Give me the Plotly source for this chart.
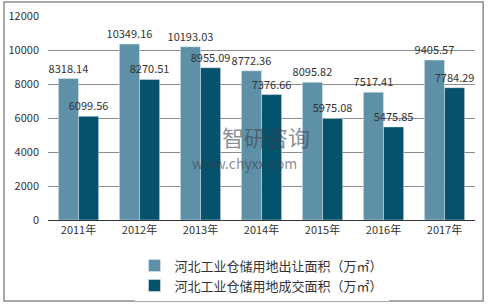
import plotly.graph_objects as go

years = ["2011年", "2012年", "2013年", "2014年", "2015年", "2016年", "2017年"]
transfer = [8318.14, 10349.16, 10193.03, 8772.36, 8095.82, 7517.41, 9405.57]
deal = [6099.56, 8270.51, 8955.09, 7376.66, 5975.08, 5475.85, 7784.29]
name1 = "河北工业仓储用地出让面积（万㎡）"
name2 = "河北工业仓储用地成交面积（万㎡）"
yticks = [0, 2000, 4000, 6000, 8000, 10000, 12000]

FONT = "Microsoft YaHei, Noto Sans CJK SC, sans-serif"

fig = go.Figure()
fig.add_trace(go.Bar(x=years, y=transfer, name=name1, marker_color="#5e90a7",
                     text=[f"{v:.2f}" for v in transfer], textposition="outside",
                     constraintext="none",
                     textfont=dict(size=11, color="#333333"), cliponaxis=False))
fig.add_trace(go.Bar(x=years, y=deal, name=name2, marker_color="#04526b",
                     text=[f"{v:.2f}" for v in deal], textposition="outside",
                     constraintext="none",
                     textfont=dict(size=11, color="#333333"), cliponaxis=False))

fig.update_layout(
    width=488, height=308,
    margin=dict(l=48, r=13, t=16, b=88, autoexpand=False),
    paper_bgcolor="white", plot_bgcolor="white",
    font=dict(family=FONT, size=11, color="#333333"),
    barmode="group", bargap=0.34, bargroupgap=0,
    showlegend=True,
    legend=dict(orientation="v", x=0.5, xanchor="center", y=-0.15, yanchor="top",
                font=dict(size=13, color="#333333"), tracegroupgap=0,
                itemwidth=30),
    xaxis=dict(showline=True, linecolor="#333333", linewidth=1, ticks="",
               tickfont=dict(size=11)),
    yaxis=dict(range=[0, 12000], tickvals=yticks, tickformat="d", showgrid=True,
               gridcolor="#8c8c8c", gridwidth=1, zeroline=False,
               tickfont=dict(size=11), ticklabelstandoff=8),
)

# outer frame
fig.add_shape(type="rect", xref="paper", yref="paper",
              x0=-0.103, x1=1.019, y0=-0.397, y1=1.069,
              line=dict(color="#8c8c8c", width=1.5), fillcolor="rgba(0,0,0,0)")

# watermark
fig.add_annotation(text="智研咨询", xref="paper", yref="paper", x=0.51, y=0.41,
                   showarrow=False, borderpad=0,
                   font=dict(size=22, color="rgba(60,65,75,0.6)", family=FONT))
fig.add_annotation(text="www.chyxx.com", xref="paper", yref="paper", x=0.46, y=0.225,
                   showarrow=False, borderpad=0,
                   font=dict(size=14, color="rgba(60,65,75,0.6)", family=FONT))

fig.write_html("out.html")
